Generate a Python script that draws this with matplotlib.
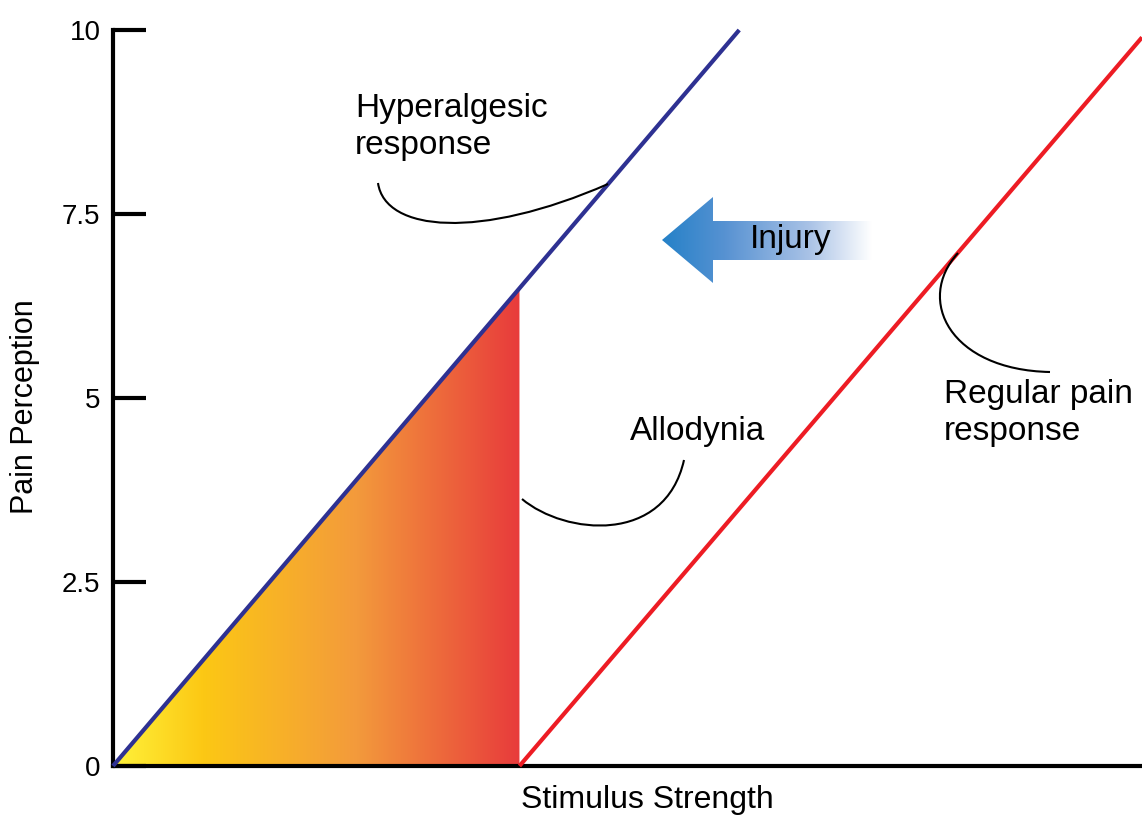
import numpy as np
import matplotlib
matplotlib.use("Agg")
import matplotlib.pyplot as plt
from matplotlib.colors import LinearSegmentedColormap
from matplotlib.patches import Polygon, PathPatch
from matplotlib.path import Path

plt.rcParams['font.family'] = ['Liberation Sans', 'DejaVu Sans']

# data (stimulus strength on x, pain perception on y)
hyper_x = [0.0, 8.52]
hyper_y = [0.0, 10.0]
regular_x = [5.53, 14.0]
regular_y = [0.0, 9.9]
allodynia_x = [0.0, 5.53, 5.53]
allodynia_y = [0.0, 6.49, 0.0]
y_ticks = [0, 2.5, 5, 7.5, 10]
y_tick_labels = ['0', '2.5', '5', '7.5', '10']

W, H = 1142, 818
fig = plt.figure(figsize=(W / 100, H / 100), dpi=100, facecolor='white')
ax = fig.add_axes([113 / W, 52 / H, 1029 / W, 736 / H])
ax.set_xlim(0, 14)
ax.set_ylim(0, 10)


def px(x, y):
    # pixel position in the picture -> data coords (for annotation bits only)
    return ((x - 113) / 1029 * 14, (766 - y) / 736 * 10)


# allodynia area, yellow -> red gradient clipped to the triangle
fill_cmap = LinearSegmentedColormap.from_list(
    'allo', [(0, '#fff23a'), (0.22, '#fcc814'), (0.6, '#f39a3c'), (1, '#e83b3b')])
tri = Polygon(np.column_stack([allodynia_x, allodynia_y]), closed=True,
              facecolor='none', edgecolor='none')
ax.add_patch(tri)
grad = np.linspace(0, 1, 256).reshape(1, -1)
im = ax.imshow(grad, cmap=fill_cmap, aspect='auto', interpolation='bilinear',
               extent=[min(allodynia_x), max(allodynia_x), 0, max(allodynia_y)],
               zorder=1)
im.set_clip_path(tri)

# response lines
ax.plot(hyper_x, hyper_y, color='#2e3192', lw=3, zorder=3, clip_on=False,
        solid_capstyle='butt')
ax.plot(regular_x, regular_y, color='#ed1c24', lw=3, zorder=3, clip_on=False,
        solid_capstyle='butt')

# injury arrow with blue -> white gradient
arrow_pts = [px(662, 240), px(713, 197), px(713, 221), px(872, 221),
             px(872, 260), px(713, 260), px(713, 283)]
arrow = Polygon(arrow_pts, closed=True, facecolor='none', edgecolor='none')
ax.add_patch(arrow)
arr_cmap = LinearSegmentedColormap.from_list(
    'arr', [(0, '#2581c8'), (0.3, '#5792d2'), (0.7, '#a9c2e6'), (1, '#ffffff')])
x0, y0 = px(662, 283)
x1, y1 = px(872, 197)
im2 = ax.imshow(grad, cmap=arr_cmap, aspect='auto', interpolation='bilinear',
                extent=[x0, x1, y0, y1], zorder=2)
im2.set_clip_path(arrow)
ax.text(*px(791, 240), 'Injury', fontsize=24, ha='center', va='center', zorder=4)


def leader(points):
    verts = [px(*p) for p in points]
    codes = [Path.MOVETO, Path.CURVE4, Path.CURVE4, Path.CURVE4]
    ax.add_patch(PathPatch(Path(verts, codes), facecolor='none',
                           edgecolor='black', lw=1.5, zorder=4))


leader([(378, 183), (385, 232), (480, 240), (608, 184)])
leader([(522, 499), (565, 535), (665, 545), (684, 460)])
leader([(958, 253), (915, 300), (950, 370), (1050, 372)])

ax.text(*px(355, 127), 'Hyperalgesic\nresponse', fontsize=24, ha='left',
        va='center', linespacing=1.25)
ax.text(*px(630, 432), 'Allodynia', fontsize=24, ha='left', va='center')
ax.text(*px(944, 413), 'Regular pain\nresponse', fontsize=24, ha='left',
        va='center', linespacing=1.25)

# axes styling
for s in ['top', 'right']:
    ax.spines[s].set_visible(False)
for s in ['left', 'bottom']:
    ax.spines[s].set_linewidth(3)
ax.set_xticks([])
ax.set_yticks(y_ticks)
ax.set_yticklabels(y_tick_labels)
ax.tick_params(axis='y', direction='in', length=24, width=3, labelsize=20, pad=9)

ax.set_ylabel('Pain Perception', fontsize=22)
ax.yaxis.set_label_coords(-0.071, 0.488)
ax.set_xlabel('Stimulus Strength', fontsize=23, va='top')
ax.xaxis.set_label_coords(0.519, -0.026)

fig.savefig('out.png', dpi=100, facecolor='white')
